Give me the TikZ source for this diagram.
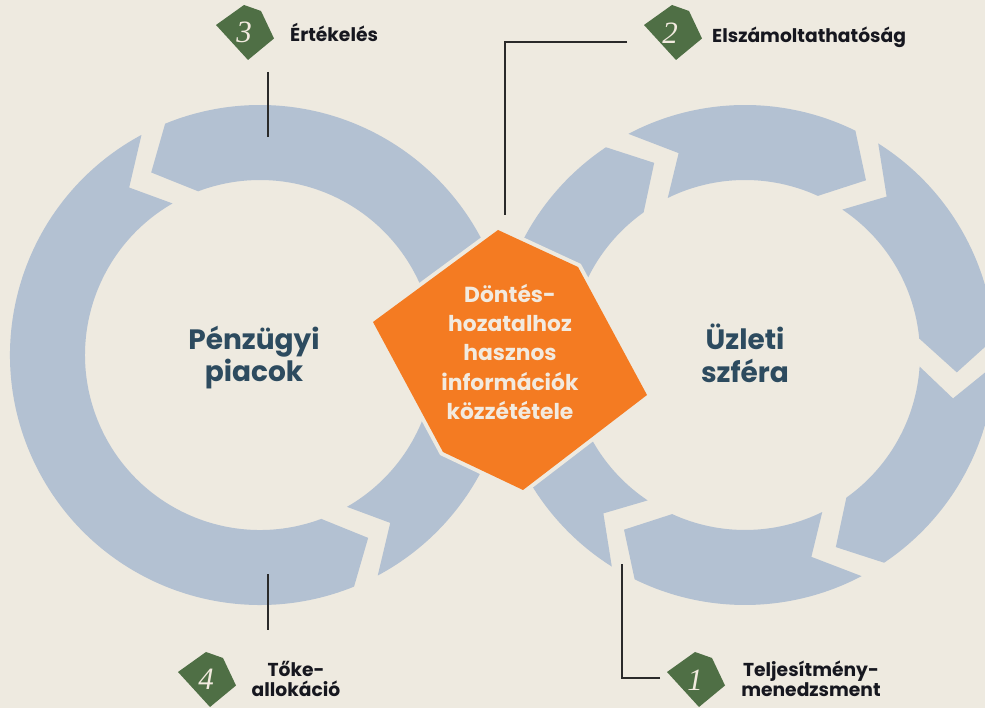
\documentclass[tikz,border=0pt]{standalone}
\usepackage{fontspec}
\setmainfont{Poppins}
\newfontfamily\numfont{Liberation Serif}
\usetikzlibrary{calc}
\definecolor{bg}{HTML}{EEEAE0}
\definecolor{ringc}{HTML}{B3C1D2}
\definecolor{orng}{HTML}{F47B22}
\definecolor{bgreen}{HTML}{4F6F45}
\definecolor{slate}{HTML}{2D4B5F}
\definecolor{ink}{HTML}{16171F}
\definecolor{cream}{HTML}{F2EADF}
\definecolor{linec}{HTML}{2A2A2A}
\newcommand\segcw[3]{\fill[ringc] ($(#1)+(#2:250pt)$) arc[start angle=#2, end angle=#3, radius=250pt] -- ($(#1)+({#3-8.5}:212.5pt)$) -- ($(#1)+({#3+1.6}:175pt)$) arc[start angle={#3+1.6}, end angle={#2-1.6}, radius=175pt] -- ($(#1)+({#2-9.6}:212.5pt)$) -- cycle;}
\newcommand\segccw[3]{\fill[ringc] ($(#1)+(#2:250pt)$) arc[start angle=#2, end angle=#3, radius=250pt] -- ($(#1)+({#3+8.5}:212.5pt)$) -- ($(#1)+({#3-1.6}:175pt)$) arc[start angle={#3-1.6}, end angle={#2+1.7}, radius=175pt] -- ($(#1)+({#2+9.7}:212.5pt)$) -- cycle;}
\newcommand\badgeshape[1]{\fill[bgreen] ($(#1)+(-1,28)$) -- ($(#1)+(16,22)$) -- ($(#1)+(29,-5.5)$) -- ($(#1)+(3,-27)$) -- ($(#1)+(-29,8)$) -- cycle;}
\tikzset{
  bigtxt/.style={anchor=base, text=slate, font=\fontsize{28}{32}\selectfont\bfseries, inner sep=0pt},
  boxtxt/.style={anchor=base, text=cream, font=\fontsize{21.8}{25}\selectfont\bfseries, inner sep=0pt},
  lbl/.style={anchor=base, text=ink, font=\fontsize{18.7}{20}\selectfont\bfseries, inner sep=0pt},
  num/.style={anchor=base, text=cream, font=\numfont\itshape\fontsize{31}{31}\selectfont, inner sep=0pt},
  conn/.style={draw=linec, line width=1.2pt}
}
\begin{document}
\begin{tikzpicture}[x=1pt,y=1pt]
\useasboundingbox (0,0) rectangle (985,708);
\clip (0,0) rectangle (985,708);
\fill[bg] (0,0) rectangle (985,708);
\coordinate (cL) at (260,353);
\coordinate (cR) at (745,353);
% left ring (counterclockwise)
\segccw{cL}{2}{112.3}
\segccw{cL}{118.3}{292.1}
\segccw{cL}{298.1}{356}
% right ring (clockwise)
\segcw{cR}{177.8}{123.8}
\segcw{cR}{117.8}{63.8}
\segcw{cR}{57.8}{3.8}
\segcw{cR}{-2.2}{-56.2}
\segcw{cR}{-62.2}{-116.2}
\segcw{cR}{-122.2}{-176.2}
% central hexagon
\coordinate (h1) at (498,478);
\coordinate (h2) at (578,441);
\coordinate (h3) at (647,313);
\coordinate (h4) at (523,218);
\coordinate (h5) at (443,256);
\coordinate (h6) at (373,386);
\draw[bg, line width=8pt, line join=miter] (h1) -- (h2) -- (h3) -- (h4) -- (h5) -- (h6) -- cycle;
\fill[orng] (h1) -- (h2) -- (h3) -- (h4) -- (h5) -- (h6) -- cycle;
\node[boxtxt] (t1) at (510,405) {Döntés-};
\node[boxtxt] (t2) at (510,376) {hozatalhoz};
\node[boxtxt] (t3) at (510,347) {hasznos};
\node[boxtxt] (t4) at (510,317) {információk};
\node[boxtxt] (t5) at (510,288) {közzététele};
% ring titles
\node[bigtxt] (pl1) at (254,358) {Pénzügyi};
\node[bigtxt] (pl2) at (254,326) {piacok};
\node[bigtxt] (pr1) at (745,358) {Üzleti};
\node[bigtxt] (pr2) at (745,325) {szféra};
% badges
\coordinate (g3) at (245,675);
\coordinate (g2) at (673,675);
\coordinate (g4) at (207,28);
\coordinate (g1) at (696,28);
\badgeshape{g3}
\badgeshape{g2}
\badgeshape{g4}
\badgeshape{g1}
\node[num] (n3) at (244,665.3) {3};
\node[num] (n2) at (670,664.7) {2};
\node[num] (n4) at (206,18) {4};
\node[num] (n1) at (695,17) {1};
% labels
\node[lbl, anchor=base west] (lab3) at (290,666) {Értékelés};
\node[lbl, anchor=base west] (lab2) at (712,665) {Elszámoltathatóság};
\node[lbl] (lab4a) at (296,31) {Tőke-};
\node[lbl] (lab4b) at (296,11) {allokáció};
\node[lbl] (lab1a) at (811,31) {Teljesítmény-};
\node[lbl] (lab1b) at (811,11) {menedzsment};
% connectors
\coordinate (l3a) at (268,636);
\coordinate (l3b) at (268,571);
\coordinate (l2a) at (627,666);
\coordinate (l2k) at (505,666);
\coordinate (l2b) at (505,493);
\coordinate (l4a) at (268,78);
\coordinate (l4b) at (268,134);
\coordinate (l1a) at (660,30);
\coordinate (l1k) at (622,30);
\coordinate (l1b) at (622,144);
\draw[conn] (l3a) -- (l3b);
\draw[conn] (l2a) -- (l2k) -- (l2b);
\draw[conn] (l4a) -- (l4b);
\draw[conn] (l1a) -- (l1k) -- (l1b);
\end{tikzpicture}
\end{document}
